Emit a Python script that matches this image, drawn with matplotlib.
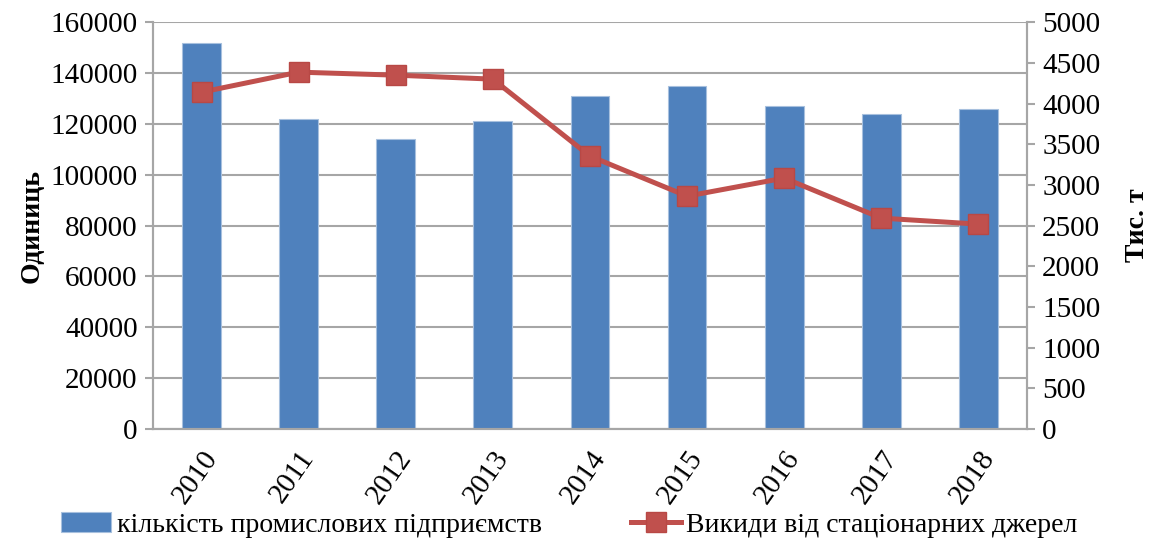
import matplotlib
matplotlib.use('Agg')
import matplotlib.pyplot as plt
import numpy as np

plt.rcParams['font.family'] = ['Liberation Serif', 'DejaVu Serif']

years = ['2010', '2011', '2012', '2013', '2014', '2015', '2016', '2017', '2018']
enterprises = [152000, 122000, 114000, 121000, 131000, 135000, 127000, 124000, 126000]
emissions = [4140, 4386, 4349, 4300, 3354, 2862, 3084, 2592, 2518]

BLUE = '#4F81BD'
RED = '#C0504D'
GRID = '#A6A6A6'

fig = plt.figure(figsize=(11.5, 5.41), dpi=100)
ax = fig.add_axes([0.133, 0.207, 0.76, 0.752])
ax2 = ax.twinx()

x = np.arange(len(years))
ax.bar(x, enterprises, width=0.4, color=BLUE, edgecolor='#A7C0DE', linewidth=0.8,
       label='кількість промислових підприємств', zorder=2)
ax2.plot(x, emissions, color=RED, linewidth=3.6, marker='s', markersize=14,
         markerfacecolor=RED, markeredgecolor='#B84845',
         label='Викиди від стаціонарних джерел', zorder=3)

ax.set_xlim(-0.5, len(years) - 0.5)
ax.set_ylim(0, 160000)
ax.set_yticks(np.arange(0, 160001, 20000))
ax2.set_ylim(0, 5000)
ax2.set_yticks(np.arange(0, 5001, 500))

ax.yaxis.grid(True, color=GRID, linewidth=1.5, zorder=0)
ax.set_axisbelow(True)

for a in (ax, ax2):
    for s in a.spines.values():
        s.set_color(GRID)
        s.set_linewidth(1.5)
    a.spines['top'].set_visible(False)
    a.tick_params(axis='y', colors=GRID, labelcolor='black', labelsize=21,
                  length=6, width=1.5, direction='out', pad=5)

ax.set_xticks(x)
ax.set_xticklabels(years, rotation=55, ha='right', rotation_mode='anchor', fontsize=21)
ax.tick_params(axis='x', length=0, pad=12)

ax.set_ylabel('Одиниць', fontsize=20, fontweight='bold', labelpad=4)
ax2.set_ylabel('Тис. т', fontsize=20, fontweight='bold', labelpad=18)

h1, l1 = ax.get_legend_handles_labels()
h2, l2 = ax2.get_legend_handles_labels()
fig.legend(h1 + h2, l1 + l2, loc='lower center', bbox_to_anchor=(0.495, -0.04), ncol=2,
           frameon=False, fontsize=20, handlelength=1.8, columnspacing=3.2, handletextpad=0.2)

fig.savefig('out.png', dpi=100, facecolor='white')
